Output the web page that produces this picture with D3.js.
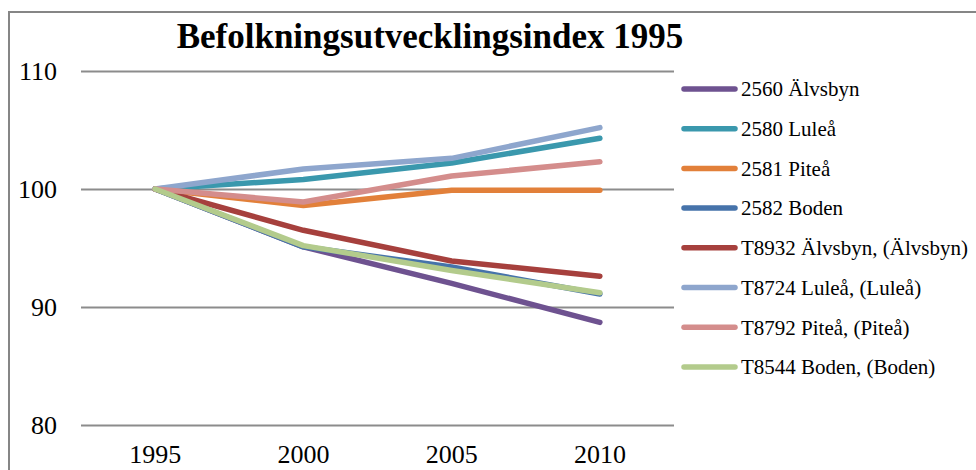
<!DOCTYPE html>
<meta charset="utf-8">
<html>
  <head>
    <style>
      body { margin: 0; background: #fff; }
      #chart { width: 976px; height: 470px; }
      .axis text { font-family: "Liberation Serif", serif; font-size: 26px; fill: #000; }
      .axis .domain { display: none; }
      .grid line { stroke: #8c8c8c; stroke-width: 2px; }
      .legend text { font-family: "Liberation Serif", serif; font-size: 21px; fill: #000; }
      .title { font-family: "Liberation Serif", serif; font-weight: bold; font-size: 35px; }
    </style>
    <script src="https://d3js.org/d3.v7.min.js"></script>
  </head>
  <body>
<div id="chart"></div>

<script type="text/javascript">
// years on the x axis and y tick labels
var years = ["1995", "2000", "2005", "2010"];
var yTicks = [80, 90, 100, 110];

// series names and index values (1995 = 100)
var seriesNames = ["2560 Älvsbyn", "2580 Luleå", "2581 Piteå", "2582 Boden",
  "T8932 Älvsbyn, (Älvsbyn)", "T8724 Luleå, (Luleå)", "T8792 Piteå, (Piteå)", "T8544 Boden, (Boden)"];
var alvsbyn2560 = [100, 95.1, 92.0, 88.7];
var lulea2580   = [100, 100.8, 102.2, 104.3];
var pitea2581   = [100, 98.6, 99.9, 99.9];
var boden2582   = [100, 95.1, 93.4, 91.1];
var alvsbynT8932 = [100, 96.5, 93.9, 92.6];
var luleaT8724  = [100, 101.7, 102.6, 105.2];
var piteaT8792  = [100, 98.9, 101.1, 102.3];
var bodenT8544  = [100, 95.2, 93.1, 91.2];
var colors = ["#6e5290", "#3a98ad", "#e2803a", "#4673aa", "#a6403d", "#8ea6cd", "#d48d8c", "#b3cb8c"];

var seriesValues = [alvsbyn2560, lulea2580, pitea2581, boden2582, alvsbynT8932, luleaT8724, piteaT8792, bodenT8544];
var series = seriesNames.map(function(n, i) { return {name: n, values: seriesValues[i], color: colors[i]}; });

var width = 976, height = 470;
var plot = {left: 81, right: 674, top: 71, bottom: 425};

var svg = d3.select("#chart")
  .append("svg")
  .attr("width", width)
  .attr("height", height);

// outer frame
svg.append("rect")
  .attr("x", 9).attr("y", 12)
  .attr("width", 1000).attr("height", 500)
  .attr("fill", "none")
  .attr("stroke", "#868686")
  .attr("stroke-width", 2);

var x = d3.scaleBand()
  .domain(years)
  .range([plot.left, plot.right]);

var y = d3.scaleLinear()
  .domain([80, 110])
  .range([plot.bottom, plot.top]);

// gridlines + y labels
svg.append("g")
  .attr("class", "axis grid")
  .attr("transform", "translate(" + plot.left + ",0)")
  .call(d3.axisLeft(y).tickValues(yTicks).tickSize(-(plot.right - plot.left)).tickPadding(24));

// x labels
svg.append("g")
  .attr("class", "axis")
  .attr("transform", "translate(0," + plot.bottom + ")")
  .call(d3.axisBottom(x).tickSize(0).tickPadding(20));

var line = d3.line()
  .x(function(d, i) { return x(years[i]) + x.bandwidth() / 2; })
  .y(function(d) { return y(d); });

svg.selectAll(".series")
  .data(series)
  .enter()
  .append("path")
  .attr("class", "series")
  .attr("d", function(d) { return line(d.values); })
  .attr("fill", "none")
  .attr("stroke", function(d) { return d.color; })
  .attr("stroke-width", 5.5)
  .attr("stroke-linecap", "round")
  .attr("stroke-linejoin", "round");

// legend
var legend = svg.append("g").attr("class", "legend")
  .selectAll("g")
  .data(series)
  .enter()
  .append("g")
  .attr("transform", function(d, i) { return "translate(0," + (89 + i * 39.7) + ")"; });

legend.append("line")
  .attr("x1", 684).attr("x2", 735)
  .attr("stroke", function(d) { return d.color; })
  .attr("stroke-width", 5.5)
  .attr("stroke-linecap", "round");

legend.append("text")
  .attr("x", 741)
  .attr("dy", "0.35em")
  .text(function(d) { return d.name; });

svg.append("text")
  .attr("class", "title")
  .attr("x", 430)
  .attr("y", 48)
  .attr("text-anchor", "middle")
  .text("Befolkningsutvecklingsindex 1995");
</script>
</body>
</html>
